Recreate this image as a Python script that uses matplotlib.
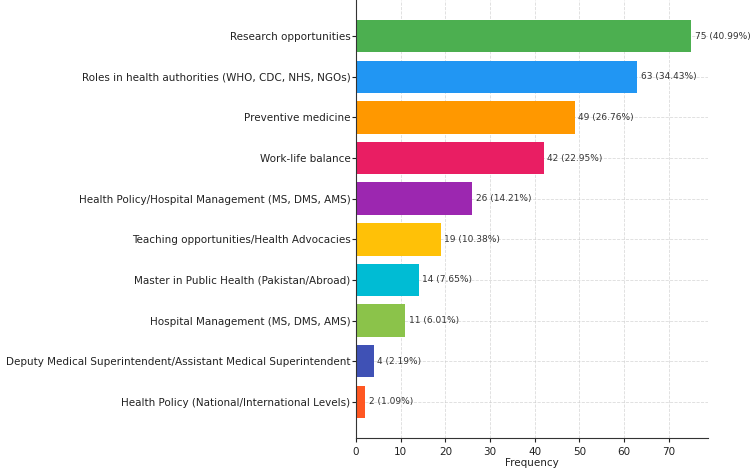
import matplotlib
matplotlib.use('Agg')
import matplotlib.pyplot as plt

# categories, bottom to top
options = ['Health Policy (National/International Levels)',
           'Deputy Medical Superintendent/Assistant Medical Superintendent',
           'Hospital Management (MS, DMS, AMS)',
           'Master in Public Health (Pakistan/Abroad)',
           'Teaching opportunities/Health Advocacies',
           'Health Policy/Hospital Management (MS, DMS, AMS)',
           'Work-life balance',
           'Preventive medicine',
           'Roles in health authorities (WHO, CDC, NHS, NGOs)',
           'Research opportunities']
counts = [2, 4, 11, 14, 19, 26, 42, 49, 63, 75]
percents = [1.09, 2.19, 6.01, 7.65, 10.38, 14.21, 22.95, 26.76, 34.43, 40.99]
colors = ['#FF5722', '#3F51B5', '#8BC34A', '#00BCD4', '#FFC107',
          '#9C27B0', '#E91E63', '#FF9800', '#2196F3', '#4CAF50']

fig = plt.figure(figsize=(7.5, 4.75), dpi=100)
ax = fig.add_axes([0.4747, 0.078, 0.469, 0.922])

bars = ax.barh(options, counts, color=colors, height=0.8)
for bar, c, p in zip(bars, counts, percents):
    ax.text(bar.get_width() + 0.8, bar.get_y() + bar.get_height() / 2,
            f'{c} ({p:.2f}%)', va='center', ha='left', fontsize=6.5, color='#333333')

ax.set_xlim(0, 78.75)
ax.set_xlabel('Frequency', fontsize=7.5, color='#222222', labelpad=1)
ax.tick_params(axis='both', labelsize=7.5, colors='#222222', length=3)
ax.tick_params(axis='y', pad=1)
ax.grid(True, linestyle='--', color='#cccccc', alpha=0.7, linewidth=0.6)
ax.set_axisbelow(True)
ax.spines['top'].set_visible(False)
ax.spines['right'].set_visible(False)
ax.spines['left'].set_color('#333333')
ax.spines['bottom'].set_color('#333333')

fig.savefig('out.png', dpi=100)
